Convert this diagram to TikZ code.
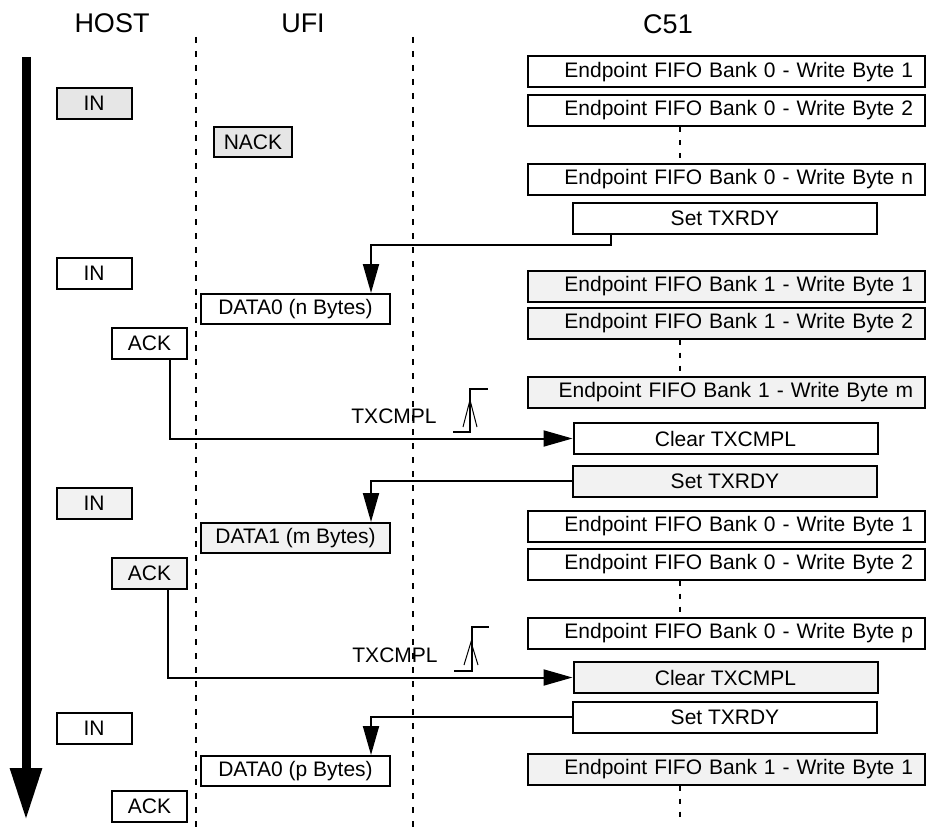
\documentclass[tikz,border=0pt]{standalone}
\usepackage{fontspec}
\setmainfont{Liberation Sans}
\usetikzlibrary{arrows.meta}
\definecolor{darkshade}{HTML}{E6E6E6}
\definecolor{paleshade}{HTML}{F2F2F2}
\begin{document}
\begin{tikzpicture}[x=0.5pt, y=-0.5pt, line width=1pt,
  every node/.style={draw, inner sep=0pt, font=\fontsize{10.5}{12.6}\selectfont},
  head/.style={draw=none, font=\fontsize{13.5}{16}\selectfont},
  plain/.style={draw=none},
  pkt/.style={minimum width=37.5pt, minimum height=15.5pt},
  data/.style={minimum width=94.5pt, minimum height=15pt},
  fifo/.style={minimum height=15.5pt, text width=186.5pt, inner xsep=6pt, align=right},
  cmd/.style={minimum width=152pt, minimum height=15.5pt},
  sig/.style={-{Triangle[length=14.5pt, width=8pt]}},
  lifeline/.style={dash pattern=on 3pt off 4pt},
  gap/.style={dash pattern=on 2.5pt off 4pt}]
  \useasboundingbox (0,0) rectangle (931,829);

  \node[head] (host) at (112,23) {HOST};
  \node[head] (ufi) at (303,23) {UFI};
  \node[head] (c51) at (668,24) {C51};
  \draw[lifeline] (196,37) -- (196,829);
  \draw[lifeline] (413,37) -- (413,829);
  \draw[line width=4.5pt, -{Triangle[length=26pt, width=15pt]}] (26,57) -- (26,820);

  \node[pkt, fill=darkshade] (in1) at (94,103.5) {IN};
  \node[pkt, fill=darkshade, minimum width=39pt, minimum height=15pt] (nack) at (253,142) {NACK};
  \node[fifo] (b0w1a) at (726.5,72) {Endpoint FIFO Bank 0 - Write Byte 1};
  \node[fifo] (b0w2a) at (726.5,110.5) {Endpoint FIFO Bank 0 - Write Byte 2};
  \node[fifo] (b0wn) at (726.5,179) {Endpoint FIFO Bank 0 - Write Byte n};
  \node[cmd] (seta) at (725,218.5) {Set TXRDY};

  \node[pkt] (in2) at (94,273.5) {IN};
  \node[data] (d0n) at (295.5,309) {DATA0 (n Bytes)};
  \node[pkt] (ack1) at (149.5,343.5) {ACK};
  \node[fifo, fill=paleshade] (b1w1a) at (726.5,286.5) {Endpoint FIFO Bank 1 - Write Byte 1};
  \node[fifo, fill=paleshade] (b1w2a) at (726.5,323) {Endpoint FIFO Bank 1 - Write Byte 2};
  \node[fifo, fill=paleshade] (b1wm) at (726.5,392.5) {Endpoint FIFO Bank 1 - Write Byte m};
  \node[cmd] (clra) at (725.5,438.5) {Clear TXCMPL};
  \node[plain] (txa) at (394,416) {TXCMPL};

  \node[pkt, fill=paleshade] (in3) at (94,503.5) {IN};
  \node[cmd, fill=paleshade] (setb) at (725,481) {Set TXRDY};
  \node[data, fill=paleshade] (d1m) at (295.5,538) {DATA1 (m Bytes)};
  \node[pkt, fill=paleshade] (ack2) at (149.5,573.5) {ACK};
  \node[fifo] (b0w1b) at (726.5,526.5) {Endpoint FIFO Bank 0 - Write Byte 1};
  \node[fifo] (b0w2b) at (726.5,564) {Endpoint FIFO Bank 0 - Write Byte 2};
  \node[fifo] (b0wp) at (726.5,633) {Endpoint FIFO Bank 0 - Write Byte p};
  \node[cmd, fill=paleshade] (clrb) at (725.5,677.5) {Clear TXCMPL};
  \node[plain] (txb) at (395,655) {TXCMPL};

  \node[cmd] (setc) at (725,717) {Set TXRDY};
  \node[pkt] (in4) at (94,728) {IN};
  \node[data] (d0p) at (295.5,771) {DATA0 (p Bytes)};
  \node[fifo, fill=paleshade] (b1w1b) at (726.5,769) {Endpoint FIFO Bank 1 - Write Byte 1};
  \node[pkt] (ack3) at (149.5,806.5) {ACK};
  \coordinate (tail) at (680,820);

  \draw[gap] ([xshift=-23.25pt]b0w2a.south) -- ([xshift=-23.25pt]b0wn.north);
  \draw[gap] ([xshift=-23.25pt]b1w2a.south) -- ([xshift=-23.25pt]b1wm.north);
  \draw[gap] ([xshift=-23.25pt]b0w2b.south) -- ([xshift=-23.25pt]b0wp.north);
  \draw[gap] ([xshift=-23.25pt]b1w1b.south) -- (tail);

  \draw[sig] ([xshift=19.5pt]seta.south west) -- ++(0,10) -| ([xshift=-10pt]d0n.north east);
  \draw[sig] ([xshift=-9pt]ack1.south east) |- (clra.west);
  \draw[sig] (setb.west) -| ([xshift=-10pt]d1m.north east);
  \draw[sig] ([xshift=-10pt]ack2.south east) |- (clrb.west);
  \draw[sig] (setc.west) -| ([xshift=-10pt]d0p.north east);

  \draw (453,432) -- (470,432) -- (470,389) -- (488,389);
  \draw[line width=0.5pt] (463,427) -- (470,400) -- (477,427);
  \draw (454,671) -- (472,671) -- (472,627) -- (489,627);
  \draw[line width=0.5pt] (464,665) -- (471,642) -- (478,665);
\end{tikzpicture}
\end{document}
